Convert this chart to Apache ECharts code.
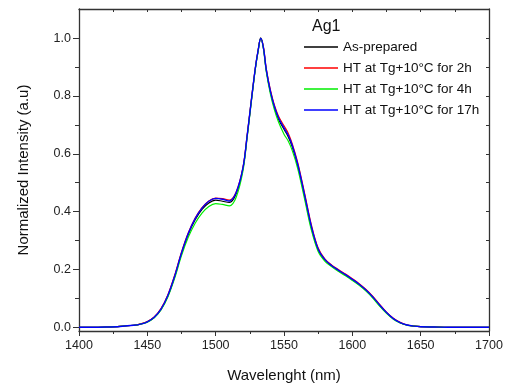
<!DOCTYPE html>
<html>
<head>
<meta charset="utf-8">
<script src="https://cdn.jsdelivr.net/npm/echarts@6/dist/echarts.min.js"></script>
<style>html,body{margin:0;padding:0;background:#fff;}#c{width:509px;height:389px;}</style>
</head>
<body>
<div id="c"></div>
<script>
var wavelengths = [1400,1410,1420,1430,1440,1445,1450,1455,1460,1465,1470,1475,1480,1485,1490,1495,1500,1505,1510,1515,1520,1523,1526,1529,1531,1533,1535,1537,1540,1543,1546,1550,1553,1556,1560,1565,1570,1575,1580,1585,1590,1595,1600,1605,1610,1615,1620,1625,1630,1635,1640,1645,1650,1660,1670,1680,1690,1700];
var asPrepared = [0.000,0.000,0.001,0.003,0.007,0.011,0.019,0.034,0.062,0.108,0.175,0.255,0.322,0.372,0.408,0.430,0.440,0.436,0.432,0.462,0.550,0.660,0.780,0.895,0.955,1.000,0.965,0.890,0.815,0.760,0.720,0.685,0.660,0.625,0.560,0.455,0.345,0.268,0.232,0.212,0.196,0.181,0.165,0.148,0.128,0.104,0.076,0.050,0.030,0.016,0.008,0.004,0.002,0.001,0.000,0.000,0.000,0.000];
var ht2h = [0.000,0.000,0.001,0.003,0.007,0.012,0.020,0.036,0.065,0.112,0.180,0.260,0.327,0.378,0.414,0.437,0.447,0.445,0.440,0.468,0.553,0.662,0.782,0.896,0.956,1.000,0.968,0.895,0.822,0.768,0.730,0.697,0.672,0.635,0.570,0.465,0.355,0.274,0.236,0.215,0.199,0.184,0.168,0.151,0.131,0.107,0.079,0.052,0.031,0.017,0.008,0.004,0.002,0.001,0.000,0.000,0.000,0.000];
var ht4h = [0.000,0.000,0.001,0.003,0.007,0.011,0.018,0.033,0.060,0.105,0.170,0.248,0.312,0.360,0.395,0.418,0.428,0.425,0.420,0.450,0.542,0.655,0.775,0.892,0.953,1.000,0.962,0.885,0.808,0.752,0.710,0.668,0.645,0.612,0.550,0.445,0.337,0.262,0.228,0.209,0.193,0.178,0.162,0.145,0.125,0.101,0.073,0.048,0.028,0.015,0.007,0.004,0.002,0.001,0.000,0.000,0.000,0.000];
var ht17h = [0.000,0.000,0.001,0.003,0.007,0.011,0.019,0.035,0.063,0.110,0.177,0.257,0.325,0.376,0.412,0.436,0.446,0.443,0.437,0.466,0.552,0.661,0.781,0.896,0.956,1.000,0.966,0.892,0.818,0.764,0.725,0.690,0.665,0.630,0.565,0.460,0.350,0.271,0.234,0.213,0.197,0.182,0.166,0.149,0.129,0.105,0.077,0.051,0.030,0.016,0.008,0.004,0.002,0.001,0.000,0.000,0.000,0.000];
var seriesNames = ['As-prepared','HT at Tg+10°C for 2h','HT at Tg+10°C for 4h','HT at Tg+10°C for 17h'];
var seriesColors = ['#000000','#ff0000','#00ee00','#0000ff'];
var yMajor = [0,0.2,0.4,0.6,0.8,1.0];
var yMinor = [0.1,0.3,0.5,0.7,0.9];
var yAll = [0,0.1,0.2,0.3,0.4,0.5,0.6,0.7,0.8,0.9,1.0];

function pairs(arr){ return wavelengths.map(function(w,i){ return [w, arr[i]]; }); }
var allData = [asPrepared, ht2h, ht4h, ht17h];

var font = '"Liberation Sans", Arial, sans-serif';
var chart = echarts.init(document.getElementById('c'));
var YMIN = -0.0128, YMAX = 1.101;
var lineStyleAxis = {color:'#333', width:1.3};
chart.setOption({
  animation:false,
  backgroundColor:'#fff',
  title:{text:'Ag1', left:312, top:19, padding:0, textStyle:{fontFamily:font, fontSize:16, fontWeight:'normal', color:'#111'}},
  legend:{
    orient:'vertical', left:304, top:39, padding:0, itemWidth:34, itemHeight:1.5, itemGap:5, icon:'rect',
    textStyle:{fontFamily:font, fontSize:13.5, color:'#111', lineHeight:16},
    data: seriesNames
  },
  grid:{left:79, right:20, top:9, bottom:58, show:false},
  xAxis:[
    {type:'value', min:1400, max:1700, interval:50, position:'bottom',
     name:'Wavelenght (nm)', nameLocation:'middle', nameGap:37,
     nameTextStyle:{fontFamily:font, fontSize:15, color:'#111'},
     axisLine:{onZero:false, lineStyle:lineStyleAxis},
     axisTick:{inside:false, length:5, lineStyle:{color:'#333'}},
     minorTick:{show:true, splitNumber:2, length:3, lineStyle:{color:'#333'}},
     axisLabel:{fontFamily:font, fontSize:12.5, color:'#222', margin:8, formatter:function(v){return String(v);}},
     splitLine:{show:false}},
    {type:'value', min:1400, max:1700, interval:25, position:'top',
     axisLine:{onZero:false, lineStyle:lineStyleAxis},
     axisTick:{inside:true, length:3, lineStyle:{color:'#333'}},
     axisLabel:{show:false}, splitLine:{show:false}}
  ],
  yAxis:[
    {type:'value', min:YMIN, max:YMAX, position:'left',
     name:'Normalized Intensity (a.u)', nameLocation:'middle', nameGap:48,
     nameTextStyle:{fontFamily:font, fontSize:15, color:'#111'},
     axisLine:{onZero:false, lineStyle:lineStyleAxis},
     axisTick:{inside:false, length:6, customValues:yMajor, lineStyle:{color:'#333'}},
     axisLabel:{fontFamily:font, fontSize:12.5, color:'#222', margin:8, customValues:yMajor,
       formatter:function(v){return v.toFixed(1);}},
     splitLine:{show:false}},
    {type:'value', min:YMIN, max:YMAX, position:'left',
     axisLine:{show:false, onZero:false},
     axisTick:{inside:false, length:4, customValues:yMinor, lineStyle:{color:'#333'}},
     axisLabel:{show:false}, splitLine:{show:false}},
    {type:'value', min:YMIN, max:YMAX, position:'right',
     axisLine:{onZero:false, lineStyle:lineStyleAxis},
     axisTick:{inside:true, length:3, customValues:yAll, lineStyle:{color:'#333'}},
     axisLabel:{show:false}, splitLine:{show:false}}
  ],
  series: seriesNames.map(function(n,i){
    return {name:n, type:'line', xAxisIndex:0, yAxisIndex:0, data:pairs(allData[i]),
      smooth:0.35, showSymbol:false, symbol:'none',
      lineStyle:{color:seriesColors[i], width: i===3 ? 1.4 : 1.2}, itemStyle:{color:seriesColors[i]}, z:2+i};
  })
});
</script>
</body>
</html>
